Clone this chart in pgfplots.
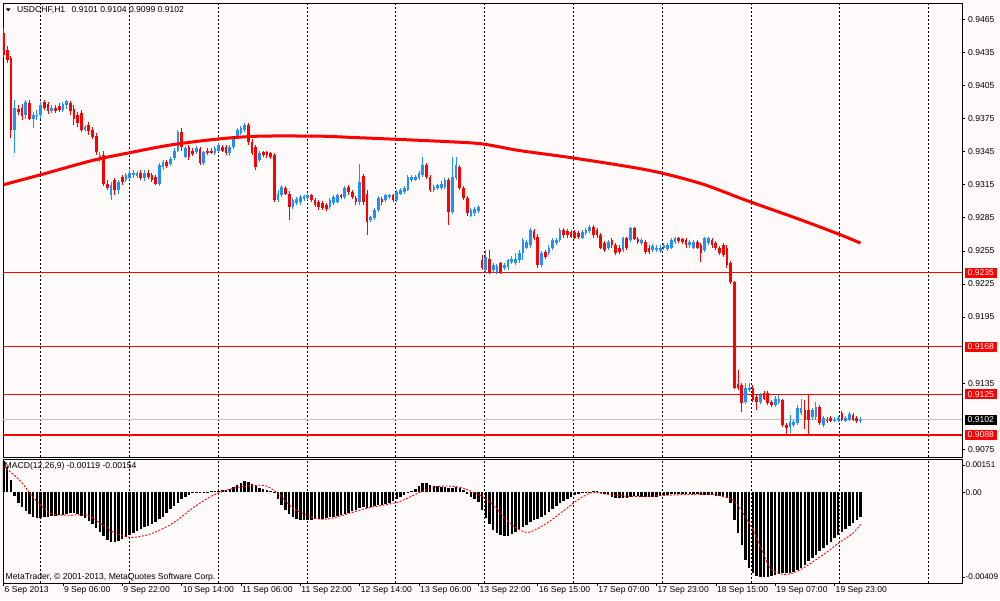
\documentclass[border=0pt]{standalone}
\usepackage{pgfplots}
\pgfplotsset{compat=1.18}
\usepackage{pgfplotstable}
\usepackage{fontspec}
\setmainfont{Liberation Sans}
\definecolor{bgc}{RGB}{255,250,250}
\definecolor{upc}{RGB}{30,144,255}
\definecolor{dnc}{RGB}{255,0,0}
\definecolor{bidc}{RGB}{192,192,192}
\newcommand\lf{\fontsize{8.6}{10}\selectfont}

% bearish (red) hourly candles: index, open, high, low, close
\pgfplotstableread{
i o h l c
0 0.9453 0.9457 0.9431 0.9433
1 0.9437 0.9441 0.9425 0.9428
2 0.9430 0.9432 0.9357 0.9365
4 0.9384 0.9387 0.9378 0.9381
5 0.9385 0.9388 0.9374 0.9377
7 0.9389 0.9392 0.9374 0.9375
11 0.9390 0.9392 0.9383 0.9385
12 0.9388 0.9390 0.9379 0.9382
14 0.9385 0.9387 0.9380 0.9382
15 0.9386 0.9389 0.9381 0.9383
18 0.9389 0.9391 0.9378 0.9382
19 0.9384 0.9387 0.9369 0.9375
20 0.9378 0.9381 0.9367 0.9371
21 0.9380 0.9383 0.9363 0.9365
23 0.9369 0.9372 0.9360 0.9364
24 0.9365 0.9367 0.9356 0.9358
25 0.9359 0.9362 0.9342 0.9345
27 0.9342 0.9346 0.9314 0.9316
28 0.9316 0.9319 0.9310 0.9312
30 0.9319 0.9321 0.9306 0.9310
32 0.9322 0.9324 0.9315 0.9317
37 0.9326 0.9328 0.9319 0.9321
39 0.9326 0.9328 0.9320 0.9322
40 0.9324 0.9326 0.9317 0.9319
41 0.9322 0.9324 0.9315 0.9316
44 0.9336 0.9337 0.9330 0.9332
48 0.9363 0.9366 0.9346 0.9349
50 0.9349 0.9351 0.9337 0.9340
51 0.9346 0.9348 0.9341 0.9343
53 0.9347 0.9349 0.9333 0.9335
55 0.9346 0.9348 0.9342 0.9344
56 0.9346 0.9348 0.9343 0.9344
59 0.9349 0.9351 0.9345 0.9346
60 0.9349 0.9351 0.9342 0.9344
66 0.9369 0.9371 0.9351 0.9354
67 0.9354 0.9356 0.9342 0.9344
68 0.9349 0.9351 0.9328 0.9331
70 0.9345 0.9346 0.9340 0.9342
71 0.9345 0.9346 0.9339 0.9342
72 0.9344 0.9345 0.9338 0.9340
73 0.9342 0.9344 0.9299 0.9301
76 0.9312 0.9314 0.9306 0.9307
77 0.9307 0.9309 0.9283 0.9295
83 0.9306 0.9307 0.9299 0.9301
84 0.9301 0.9303 0.9295 0.9297
85 0.9299 0.9301 0.9292 0.9295
86 0.9298 0.9300 0.9292 0.9294
87 0.9297 0.9298 0.9291 0.9293
91 0.9306 0.9307 0.9302 0.9304
93 0.9313 0.9315 0.9306 0.9308
94 0.9308 0.9310 0.9302 0.9304
95 0.9303 0.9305 0.9297 0.9299
97 0.9323 0.9325 0.9297 0.9299
98 0.9307 0.9310 0.9269 0.9281
102 0.9302 0.9304 0.9297 0.9299
105 0.9306 0.9307 0.9299 0.9301
114 0.9333 0.9335 0.9320 0.9322
115 0.9322 0.9324 0.9308 0.9310
120 0.9319 0.9321 0.9278 0.9290
123 0.9331 0.9333 0.9310 0.9312
124 0.9312 0.9314 0.9301 0.9303
125 0.9303 0.9305 0.9287 0.9289
129 0.9247 0.9251 0.9238 0.9239
131 0.9248 0.9256 0.9234 0.9236
134 0.9244 0.9245 0.9234 0.9236
143 0.9273 0.9275 0.9265 0.9267
144 0.9268 0.9270 0.9239 0.9242
146 0.9254 0.9256 0.9248 0.9249
151 0.9274 0.9276 0.9267 0.9269
152 0.9273 0.9275 0.9267 0.9269
153 0.9272 0.9274 0.9267 0.9268
154 0.9272 0.9274 0.9266 0.9267
155 0.9271 0.9273 0.9266 0.9268
159 0.9277 0.9278 0.9267 0.9269
160 0.9274 0.9276 0.9267 0.9269
161 0.9269 0.9271 0.9257 0.9258
162 0.9262 0.9264 0.9254 0.9256
164 0.9265 0.9267 0.9258 0.9260
165 0.9260 0.9262 0.9251 0.9253
166 0.9258 0.9260 0.9252 0.9254
168 0.9267 0.9268 0.9256 0.9258
170 0.9276 0.9277 0.9265 0.9266
171 0.9266 0.9268 0.9261 0.9263
173 0.9263 0.9265 0.9252 0.9254
174 0.9258 0.9260 0.9252 0.9254
182 0.9267 0.9268 0.9262 0.9264
183 0.9266 0.9267 0.9261 0.9263
184 0.9265 0.9267 0.9258 0.9260
187 0.9263 0.9265 0.9257 0.9258
188 0.9260 0.9262 0.9245 0.9253
191 0.9265 0.9267 0.9258 0.9260
192 0.9262 0.9264 0.9256 0.9258
193 0.9258 0.9259 0.9251 0.9253
194 0.9260 0.9262 0.9249 0.9251
195 0.9258 0.9260 0.9239 0.9242
196 0.9244 0.9246 0.9225 0.9227
197 0.9227 0.9228 0.9130 0.9131
198 0.9134 0.9147 0.9129 0.9131
199 0.9133 0.9135 0.9109 0.9117
202 0.9131 0.9133 0.9118 0.9120
203 0.9122 0.9124 0.9111 0.9118
205 0.9126 0.9128 0.9120 0.9121
206 0.9126 0.9128 0.9115 0.9117
207 0.9118 0.9120 0.9113 0.9115
210 0.9120 0.9121 0.9095 0.9097
211 0.9097 0.9099 0.9089 0.9094
216 0.9111 0.9120 0.9093 0.9102
217 0.9111 0.9124 0.9088 0.9102
220 0.9113 0.9115 0.9097 0.9099
222 0.9102 0.9104 0.9099 0.9101
223 0.9103 0.9105 0.9100 0.9101
226 0.9108 0.9110 0.9101 0.9102
229 0.9106 0.9108 0.9101 0.9102
230 0.9103 0.9105 0.9099 0.9101
}\downtab

% bullish (blue) hourly candles: index, open, high, low, close
\pgfplotstableread{
i o h l c
3 0.9365 0.9392 0.9344 0.9385
6 0.9378 0.9392 0.9375 0.9390
8 0.9375 0.9381 0.9366 0.9378
9 0.9377 0.9383 0.9374 0.9378
10 0.9378 0.9390 0.9375 0.9387
13 0.9382 0.9387 0.9380 0.9385
16 0.9383 0.9390 0.9381 0.9388
17 0.9387 0.9392 0.9384 0.9391
22 0.9365 0.9369 0.9364 0.9367
26 0.9339 0.9345 0.9336 0.9342
29 0.9306 0.9317 0.9301 0.9315
31 0.9310 0.9319 0.9307 0.9317
33 0.9319 0.9326 0.9317 0.9324
34 0.9321 0.9328 0.9319 0.9326
35 0.9324 0.9328 0.9321 0.9326
36 0.9323 0.9327 0.9321 0.9326
38 0.9321 0.9328 0.9318 0.9326
42 0.9316 0.9335 0.9314 0.9333
43 0.9331 0.9337 0.9328 0.9336
45 0.9334 0.9340 0.9332 0.9338
46 0.9339 0.9348 0.9337 0.9346
47 0.9346 0.9365 0.9345 0.9363
49 0.9340 0.9350 0.9339 0.9348
52 0.9345 0.9350 0.9343 0.9348
54 0.9335 0.9346 0.9333 0.9345
57 0.9344 0.9350 0.9342 0.9348
58 0.9346 0.9353 0.9345 0.9351
61 0.9344 0.9351 0.9341 0.9349
62 0.9349 0.9359 0.9347 0.9357
63 0.9357 0.9366 0.9356 0.9365
64 0.9362 0.9368 0.9360 0.9366
65 0.9365 0.9371 0.9363 0.9369
69 0.9337 0.9346 0.9336 0.9344
74 0.9301 0.9310 0.9299 0.9307
75 0.9306 0.9315 0.9304 0.9313
78 0.9295 0.9303 0.9293 0.9301
79 0.9298 0.9304 0.9297 0.9302
80 0.9299 0.9306 0.9297 0.9304
81 0.9302 0.9306 0.9300 0.9305
82 0.9303 0.9307 0.9301 0.9306
88 0.9295 0.9303 0.9293 0.9301
89 0.9298 0.9306 0.9297 0.9304
90 0.9299 0.9307 0.9298 0.9306
92 0.9304 0.9314 0.9302 0.9312
96 0.9299 0.9334 0.9297 0.9317
99 0.9283 0.9287 0.9281 0.9286
100 0.9285 0.9294 0.9283 0.9292
101 0.9292 0.9305 0.9290 0.9303
103 0.9301 0.9307 0.9299 0.9306
104 0.9304 0.9307 0.9302 0.9306
106 0.9301 0.9310 0.9299 0.9308
107 0.9307 0.9312 0.9306 0.9310
108 0.9308 0.9314 0.9307 0.9312
109 0.9310 0.9324 0.9309 0.9322
110 0.9319 0.9324 0.9317 0.9322
111 0.9319 0.9324 0.9318 0.9322
112 0.9321 0.9327 0.9319 0.9326
113 0.9324 0.9340 0.9322 0.9333
116 0.9310 0.9315 0.9308 0.9313
117 0.9312 0.9316 0.9310 0.9315
118 0.9312 0.9318 0.9310 0.9316
119 0.9313 0.9321 0.9311 0.9319
121 0.9290 0.9340 0.9288 0.9322
122 0.9321 0.9340 0.9319 0.9333
126 0.9287 0.9294 0.9286 0.9292
127 0.9289 0.9295 0.9287 0.9293
128 0.9291 0.9297 0.9289 0.9295
130 0.9238 0.9256 0.9236 0.9249
132 0.9238 0.9244 0.9235 0.9242
133 0.9236 0.9243 0.9234 0.9241
135 0.9239 0.9244 0.9238 0.9242
136 0.9240 0.9248 0.9238 0.9247
137 0.9245 0.9250 0.9243 0.9248
138 0.9244 0.9253 0.9242 0.9248
139 0.9247 0.9256 0.9244 0.9253
140 0.9253 0.9267 0.9247 0.9265
141 0.9258 0.9265 0.9257 0.9263
142 0.9260 0.9276 0.9258 0.9274
145 0.9242 0.9255 0.9240 0.9253
147 0.9253 0.9260 0.9251 0.9258
148 0.9258 0.9267 0.9256 0.9265
149 0.9262 0.9267 0.9260 0.9265
150 0.9265 0.9276 0.9263 0.9274
156 0.9267 0.9274 0.9266 0.9272
157 0.9271 0.9276 0.9269 0.9274
158 0.9273 0.9278 0.9271 0.9277
163 0.9258 0.9265 0.9256 0.9263
167 0.9256 0.9268 0.9254 0.9267
169 0.9265 0.9277 0.9263 0.9276
172 0.9262 0.9267 0.9260 0.9265
175 0.9256 0.9261 0.9254 0.9259
176 0.9256 0.9260 0.9254 0.9258
177 0.9255 0.9260 0.9253 0.9258
178 0.9258 0.9262 0.9256 0.9260
179 0.9257 0.9262 0.9255 0.9260
180 0.9258 0.9267 0.9257 0.9265
181 0.9263 0.9268 0.9261 0.9267
185 0.9260 0.9265 0.9258 0.9263
186 0.9258 0.9265 0.9257 0.9263
189 0.9256 0.9268 0.9254 0.9267
190 0.9262 0.9268 0.9260 0.9267
200 0.9118 0.9135 0.9116 0.9131
201 0.9129 0.9135 0.9127 0.9131
204 0.9118 0.9126 0.9116 0.9124
208 0.9115 0.9123 0.9113 0.9121
209 0.9118 0.9124 0.9116 0.9121
212 0.9095 0.9106 0.9090 0.9100
213 0.9097 0.9102 0.9095 0.9100
214 0.9099 0.9115 0.9097 0.9112
215 0.9108 0.9121 0.9106 0.9112
218 0.9104 0.9112 0.9102 0.9111
219 0.9104 0.9118 0.9102 0.9113
221 0.9097 0.9105 0.9095 0.9103
224 0.9101 0.9104 0.9100 0.9102
225 0.9102 0.9105 0.9100 0.9103
227 0.9101 0.9105 0.9100 0.9103
228 0.9102 0.9109 0.9101 0.9107
231 0.9101 0.9104 0.9099 0.9102
}\uptab

% MACD(12,26,9) histogram
\pgfplotstableread{
i v
0 0.00151
1 0.00120
2 0.00058
3 -0.00019
4 -0.00053
5 -0.00072
6 -0.00091
7 -0.00106
8 -0.00120
9 -0.00125
10 -0.00125
11 -0.00120
12 -0.00120
13 -0.00115
14 -0.00115
15 -0.00110
16 -0.00110
17 -0.00106
18 -0.00101
19 -0.00101
20 -0.00106
21 -0.00115
22 -0.00125
23 -0.00139
24 -0.00154
25 -0.00173
26 -0.00192
27 -0.00211
28 -0.00230
29 -0.00240
30 -0.00240
31 -0.00235
32 -0.00226
33 -0.00216
34 -0.00206
35 -0.00197
36 -0.00187
37 -0.00178
38 -0.00168
39 -0.00163
40 -0.00154
41 -0.00144
42 -0.00130
43 -0.00120
44 -0.00101
45 -0.00082
46 -0.00067
47 -0.00053
48 -0.00034
49 -0.00024
50 -0.00014
51 -0.00005
52 -0.00005
53 -0.00002
54 -0.00001
55 0.00002
56 0.00006
57 0.00006
58 0.00007
59 0.00010
60 0.00010
61 0.00016
62 0.00024
63 0.00034
64 0.00043
65 0.00053
66 0.00048
67 0.00038
68 0.00029
69 0.00019
70 0.00014
71 0.00010
72 0.00005
73 -0.00005
74 -0.00034
75 -0.00062
76 -0.00086
77 -0.00106
78 -0.00120
79 -0.00130
80 -0.00134
81 -0.00134
82 -0.00134
83 -0.00134
84 -0.00130
85 -0.00130
86 -0.00130
87 -0.00125
88 -0.00120
89 -0.00120
90 -0.00115
91 -0.00110
92 -0.00106
93 -0.00101
94 -0.00091
95 -0.00086
96 -0.00077
97 -0.00072
98 -0.00077
99 -0.00072
100 -0.00067
101 -0.00062
102 -0.00062
103 -0.00058
104 -0.00053
105 -0.00043
106 -0.00034
107 -0.00024
108 -0.00014
109 -0.00005
110 0.00005
111 0.00014
112 0.00029
113 0.00043
114 0.00043
115 0.00034
116 0.00029
117 0.00029
118 0.00024
119 0.00024
120 0.00019
121 0.00019
122 0.00024
123 0.00019
124 0.00010
125 -0.00010
126 -0.00024
127 -0.00034
128 -0.00048
129 -0.00086
130 -0.00125
131 -0.00154
132 -0.00182
133 -0.00197
134 -0.00206
135 -0.00211
136 -0.00211
137 -0.00202
138 -0.00192
139 -0.00178
140 -0.00168
141 -0.00158
142 -0.00144
143 -0.00134
144 -0.00130
145 -0.00120
146 -0.00110
147 -0.00096
148 -0.00082
149 -0.00067
150 -0.00053
151 -0.00043
152 -0.00034
153 -0.00024
154 -0.00014
155 -0.00010
156 -0.00005
157 -0.00002
158 -0.00001
159 0.00004
160 0.00006
161 -0.00001
162 -0.00010
163 -0.00014
164 -0.00024
165 -0.00029
166 -0.00029
167 -0.00029
168 -0.00029
169 -0.00024
170 -0.00019
171 -0.00019
172 -0.00024
173 -0.00024
174 -0.00024
175 -0.00024
176 -0.00024
177 -0.00019
178 -0.00014
179 -0.00014
180 -0.00010
181 -0.00010
182 -0.00010
183 -0.00010
184 -0.00010
185 -0.00010
186 -0.00010
187 -0.00010
188 -0.00014
189 -0.00014
190 -0.00014
191 -0.00014
192 -0.00019
193 -0.00019
194 -0.00024
195 -0.00029
196 -0.00053
197 -0.00134
198 -0.00197
199 -0.00254
200 -0.00326
201 -0.00365
202 -0.00389
203 -0.00403
204 -0.00408
205 -0.00409
206 -0.00408
207 -0.00403
208 -0.00398
209 -0.00394
210 -0.00389
211 -0.00389
212 -0.00389
213 -0.00384
214 -0.00374
215 -0.00365
216 -0.00350
217 -0.00331
218 -0.00317
219 -0.00302
220 -0.00283
221 -0.00269
222 -0.00254
223 -0.00240
224 -0.00221
225 -0.00206
226 -0.00192
227 -0.00178
228 -0.00163
229 -0.00149
230 -0.00134
231 -0.00119
}\macdtab

\begin{document}
\begin{tikzpicture}[x=1pt,y=1pt,font=\lf]
\useasboundingbox (0,0) rectangle (1000,600);
\fill[bgc] (0,0) rectangle (1000,600);

% ---------------- price panel ----------------
\begin{axis}[
  at={(3pt,143pt)}, anchor=south west, scale only axis,
  width=959pt, height=454pt,
  xmin=-0.135, xmax=258.36, ymin=0.9068, ymax=0.94798,
  axis line style={black, line width=0.8pt},
  clip mode=individual,
  xtick={9.97,33.9,57.85,81.8,105.7,129.7,153.6,177.5,201.5,225.4,249.3},
  xticklabels={},
  xmajorgrids,
  major x grid style={black, line width=0.7pt, dash pattern=on 2pt off 2pt},
  xtick style={draw=none},
  ytick={0.9075,0.9135,0.9195,0.9225,0.9255,0.9285,0.9315,0.9345,0.9375,0.9405,0.9435,0.9465},
  yticklabels={0.9075,0.9135,0.9195,0.9225,0.9255,0.9285,0.9315,0.9345,0.9375,0.9405,0.9435,0.9465},
  ytick pos=right, yticklabel pos=right,
  tick align=outside, major tick length=3pt,
  ytick style={black, line width=0.6pt},
  yticklabel style={font=\lf, anchor=west, inner sep=0pt, xshift=3pt},
]
% horizontal levels
\addplot[dnc, line width=0.9pt] coordinates {(-1,0.9235) (260,0.9235)};
\addplot[dnc, line width=1.2pt] coordinates {(-1,0.9168) (260,0.9168)};
\addplot[dnc, line width=1.2pt] coordinates {(-1,0.9125) (260,0.9125)};
\addplot[dnc, line width=1.2pt] coordinates {(-1,0.9088) (260,0.9088)};
\addplot[bidc, line width=1pt] coordinates {(-1,0.9102) (260,0.9102)};

% candles: wicks then bodies
\addplot[draw=none, mark=none, error bars/.cd, y dir=plus, y explicit, error mark=none,
  error bar style={draw=dnc, line width=1pt}]
  table[x=i, y=l, y error plus expr=\thisrow{h}-\thisrow{l}] {\downtab};
\addplot[draw=none, mark=none, error bars/.cd, y dir=plus, y explicit, error mark=none,
  error bar style={draw=dnc, line width=2.7pt}]
  table[x=i, y=c, y error plus expr=\thisrow{o}-\thisrow{c}] {\downtab};
\addplot[draw=none, mark=none, error bars/.cd, y dir=plus, y explicit, error mark=none,
  error bar style={draw=upc, line width=1pt}]
  table[x=i, y=l, y error plus expr=\thisrow{h}-\thisrow{l}] {\uptab};
\addplot[draw=none, mark=none, error bars/.cd, y dir=plus, y explicit, error mark=none,
  error bar style={draw=upc, line width=2.7pt}]
  table[x=i, y=o, y error plus expr=\thisrow{c}-\thisrow{o}] {\uptab};

% moving average
\addplot[dnc, line width=3pt, smooth, line join=round] coordinates {
(0,0.9315) (10,0.9324) (24,0.9337) (34,0.9344) (45,0.9351) (58,0.93565)
(69,0.9359) (85,0.9359) (93,0.9358) (107,0.9356) (120,0.9354) (129,0.9352)
(139,0.9346) (154,0.9339) (174,0.9328) (188,0.9316) (200,0.9301) (215,0.9283)
(226,0.9269) (231,0.9262)};

% price boxes
\node[fill=dnc, text=white, anchor=west, inner xsep=3pt, inner ysep=0pt, minimum height=10pt, xshift=2.5pt] at (axis cs:258.36,0.9235) {0.9235};
\node[fill=dnc, text=white, anchor=west, inner xsep=3pt, inner ysep=0pt, minimum height=10pt, xshift=2.5pt] at (axis cs:258.36,0.9168) {0.9168};
\node[fill=dnc, text=white, anchor=west, inner xsep=3pt, inner ysep=0pt, minimum height=10pt, xshift=2.5pt] at (axis cs:258.36,0.9125) {0.9125};
\node[fill=black, text=white, anchor=west, inner xsep=3pt, inner ysep=0pt, minimum height=10pt, xshift=2.5pt] at (axis cs:258.36,0.9102) {0.9102};
\node[fill=dnc, text=white, anchor=west, inner xsep=3pt, inner ysep=0pt, minimum height=10pt, xshift=2.5pt] at (axis cs:258.36,0.9088) {0.9088};
\end{axis}

% ---------------- MACD panel ----------------
\begin{axis}[
  at={(3pt,17pt)}, anchor=south west, scale only axis,
  width=959pt, height=124pt,
  xmin=-0.135, xmax=258.36, ymin=-0.004361, ymax=0.001601,
  axis line style={black, line width=0.8pt},
  xtick={0,16,32,48,64,80,96,112,128,144,160,176,192,208,224},
  xticklabels={6 Sep 2013,9 Sep 06:00,9 Sep 22:00,10 Sep 14:00,11 Sep 06:00,11 Sep 22:00,12 Sep 14:00,13 Sep 06:00,13 Sep 22:00,16 Sep 15:00,17 Sep 07:00,17 Sep 23:00,18 Sep 15:00,19 Sep 07:00,19 Sep 23:00},
  xtick pos=bottom,
  extra x ticks={9.97,33.9,57.85,81.8,105.7,129.7,153.6,177.5,201.5,225.4,249.3},
  extra x tick labels={},
  extra x tick style={grid=major, tick style={draw=none}},
  major grid style={black, line width=0.7pt, dash pattern=on 2pt off 2pt},
  ytick={0.001313,0,-0.004072}, yticklabels={0.00151,0.00,-0.00409},
  ytick pos=right, yticklabel pos=right,
  tick align=outside, major tick length=3pt,
  tick style={black, line width=0.6pt},
  xticklabel style={font=\lf, anchor=north west, inner sep=0pt, xshift=1pt},
  yticklabel style={font=\fontsize{8.2}{10}\selectfont, anchor=west, inner sep=0pt, xshift=0.5pt},
  scaled y ticks=false,
]
\addplot[ycomb, black, line width=2.5pt, mark=none] table[x=i, y=v] {\macdtab};
\addplot[dnc, line width=0.9pt, dash pattern=on 2pt off 1.5pt, smooth, mark=none] coordinates {
(0,0.00125) (4.4,0.00057) (8,-0.00024) (12.5,-0.00100) (17,-0.00110) (22.5,-0.00110)
(26,-0.00148) (29.5,-0.00191) (33.3,-0.00215) (36,-0.00215) (40.3,-0.00196)
(45.7,-0.00148) (51,-0.00076) (56.5,-0.00014) (61.9,0.00019) (67.2,0.00033)
(71,0.00029) (74.5,-0.00014) (78,-0.00076) (81.8,-0.00110) (85.3,-0.00129)
(88.8,-0.00124) (93.4,-0.00100) (98,-0.00076) (102.3,-0.00062) (107,-0.00043)
(112.3,0.00000) (117.6,0.00029) (123,0.00024) (128.4,-0.00014) (132,-0.00062)
(135.7,-0.00134) (139.2,-0.00182) (141.9,-0.00191) (146.5,-0.00148) (151.9,-0.00076)
(155.4,-0.00029) (158.9,0.00000) (162.7,-0.00010) (168.1,-0.00019) (173.5,-0.00019)
(178.8,-0.00014) (185.9,-0.00010) (191.2,-0.00010) (196.6,-0.00038) (199.3,-0.00100)
(202,-0.00182) (204.7,-0.00291) (206.6,-0.00363) (209.3,-0.00392) (212,-0.00392)
(214.7,-0.00373) (218.2,-0.00334) (222,-0.00287) (225.5,-0.00239) (229,-0.00196)
(231,-0.00154)};
\end{axis}

% header and captions
\fill[black] (6,591.5) -- (10.5,591.5) -- (8.25,588.5) -- cycle;
\node[anchor=west, inner sep=0pt] at (16.8,590) {USDCHF,H1\hspace{4pt} 0.9101 0.9104 0.9099 0.9102};
\node[anchor=west, inner sep=0pt] at (4.5,134) {MACD(12,26,9) -0.00119 -0.00154};
\node[anchor=west, inner sep=0pt] at (5.5,23) {MetaTrader, © 2001-2013, MetaQuotes Software Corp.};
\end{tikzpicture}
\end{document}
